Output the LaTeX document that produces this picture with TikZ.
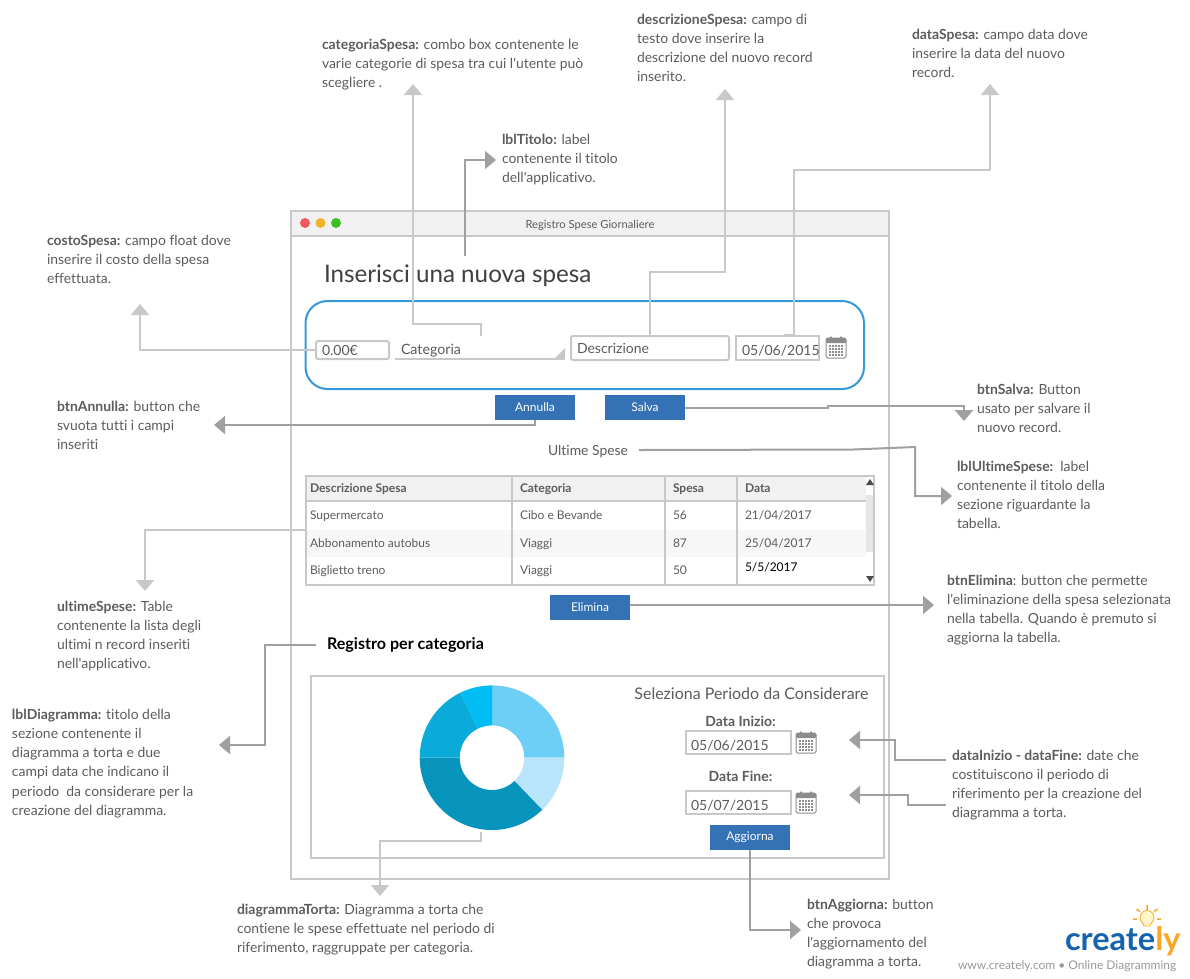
\documentclass[tikz,border=0pt]{standalone}
\usepackage{fontspec}
\setmainfont[Ligatures={TeXOff,CommonOff}]{Lato}
\usetikzlibrary{arrows.meta}
\definecolor{linelight}{HTML}{C8C8C8}
\definecolor{linedark}{HTML}{A0A0A0}
\definecolor{txt}{HTML}{5C5C5C}
\definecolor{btnblue}{HTML}{3571B5}
\definecolor{roundblue}{HTML}{3498DB}
\definecolor{barfill}{HTML}{F1F1F1}
\definecolor{calgray}{HTML}{8C8C8C}
\definecolor{dotred}{HTML}{F0595F}
\definecolor{dotyellow}{HTML}{F0B429}
\definecolor{dotgreen}{HTML}{3BBF23}
\definecolor{stripe}{HTML}{F7F7F7}
\definecolor{thumb}{HTML}{E6E6E6}
\definecolor{logoblue}{HTML}{1563AE}
\definecolor{logoorange}{HTML}{F9A825}
\definecolor{bulb}{HTML}{FFF6CC}
\definecolor{pieA}{HTML}{6DCFF6}
\definecolor{pieB}{HTML}{B8E5FA}
\definecolor{pieC}{HTML}{0694BC}
\definecolor{pieD}{HTML}{0AABD8}
\definecolor{pieE}{HTML}{02BCF4}
\newcommand{\fsz}[2]{\fontsize{#1}{#2}\selectfont}
\newcommand{\piesector}[3]{\fill[#1] (#2:72.3pt) arc[start angle=#2,end angle=#3,radius=72.3pt] -- (#3:32.3pt) arc[start angle=#3,end angle=#2,radius=32.3pt] -- cycle;}
\tikzset{
  every node/.style={inner sep=0pt,outer sep=0pt,text=txt},
  note/.style={anchor=north west,align=left,yshift=-2pt,font=\fsz{13.95}{19.2}},
  connl/.style={draw=linelight,line width=2pt,-{Triangle[length=11pt,width=18pt,color=linelight]}},
  connd/.style={draw=linedark,line width=2pt,-{Triangle[length=11pt,width=18pt,color=linedark]}},
  frame/.style={draw=linelight,line width=2pt,anchor=north west},
  field/.style={draw=linelight,line width=2pt,anchor=north west,rounded corners=2pt},
  btn/.style={fill=btnblue,minimum width=80pt,minimum height=25pt,anchor=north west,text=white,font=\fsz{12}{14}},
  celltext/.style={anchor=base west,font=\fsz{12}{14}},
  cal/.pic={
    \draw[calgray,line width=1pt,fill=white,rounded corners=1.5pt] (0,2) rectangle (20,22);
    \fill[calgray,rounded corners=1pt] (0,2) rectangle (20,7);
    \fill[calgray] (4,0.5) rectangle (6,4) (14,0.5) rectangle (16,4);
    \foreach \i in {0,...,4} \foreach \j in {0,...,3}
      \fill[calgray] (3.4+\i*3,9.2+\j*3) rectangle ++(1.8,1.8);
  },
  x=1pt,y=-1pt
}
\begin{document}
\begin{tikzpicture}
\useasboundingbox (0,0) rectangle (1190,978);
\fill[white] (0,0) rectangle (1190,978);

% window
\node[frame,minimum width=598pt,minimum height=668pt] (win) at (291,211) {};
\node[frame,fill=barfill,minimum width=598pt,minimum height=25pt] (bar) at (291,211) {};
\fill[dotred] (305,223) circle (5);
\fill[dotyellow] (320.5,223) circle (5);
\fill[dotgreen] (336,223) circle (5);
\node[font=\fsz{11.2}{13}] (wintitle) at (590,225) {Registro Spese Giornaliere};

% form
\node[anchor=base west,font=\fsz{24.2}{27},text=black!75] (title) at (324,282) {Inserisci una nuova spesa};
\draw[roundblue,line width=2pt,rounded corners=22pt] (305.5,301) rectangle (864,389);
\node[field,minimum width=73pt,minimum height=18pt] (costo) at (316,341) {};
\node[anchor=base west,font=\fsz{14}{16}] (costotxt) at (322,355) {0.00€};
\node[anchor=base west,font=\fsz{14.2}{16}] (cattxt) at (401,354) {Categoria};
\node[anchor=north west,minimum width=170pt,minimum height=1pt] (catline) at (395,358.5) {};
\draw[linelight,line width=2pt] (catline.west) -- (catline.east);
\fill[linelight] (565,348) -- (565,358) -- (555,358) -- cycle;
\node[field,minimum width=158pt,minimum height=24pt] (descr) at (571,336) {};
\node[anchor=base west,font=\fsz{14}{16}] (descrtxt) at (577,353) {Descrizione};
\node[frame,minimum width=83pt,minimum height=24pt] (datas) at (736,336) {};
\node[anchor=base west,font=\fsz{14}{16}] (datastxt) at (742,355) {05/06/2015};
\pic at (826,336) {cal};

\node[btn] (annulla) at (495,395) {Annulla};
\node[btn] (salva) at (605,395) {Salva};
\node[anchor=base,font=\fsz{13.9}{16}] (ultime) at (588,455) {Ultime Spese};

% table
\fill[barfill] (306,476) rectangle (866,501);
\fill[stripe] (306,530) rectangle (866,557);
\fill[thumb] (866,495) rectangle (874,552);
\node[frame,minimum width=568pt,minimum height=109pt] (tab) at (306,476) {};
\draw[linelight,line width=2pt] (306,501) -- (866,501);
\draw[linelight,line width=2pt] (512,476) -- (512,585) (665,476) -- (665,585) (737,476) -- (737,585);
\fill[black!70] (870,479) -- (874,485) -- (866,485) -- cycle;
\fill[black!70] (870,582) -- (874,576) -- (866,576) -- cycle;
\node[celltext] (h1) at (310,492) {\textbf{Descrizione Spesa}};
\node[celltext] (h2) at (520,492) {\textbf{Categoria}};
\node[celltext] (h3) at (673,492) {\textbf{Spesa}};
\node[celltext] (h4) at (745,492) {\textbf{Data}};
\node[celltext] (a1) at (310,519) {Supermercato};
\node[celltext] (a2) at (520,519) {Cibo e Bevande};
\node[celltext] (a3) at (673,519) {56};
\node[celltext] (a4) at (745,519) {21/04/2017};
\node[celltext] (b1) at (310,547) {Abbonamento autobus};
\node[celltext] (b2) at (520,547) {Viaggi};
\node[celltext] (b3) at (673,547) {87};
\node[celltext] (b4) at (745,547) {25/04/2017};
\node[celltext] (c1) at (310,574) {Biglietto treno};
\node[celltext] (c2) at (520,574) {Viaggi};
\node[celltext] (c3) at (673,574) {50};
\node[celltext,text=black] (c4) at (745,571) {5/5/2017};
\node[btn] (elimina) at (550,595) {Elimina};

% lower section
\node[anchor=base west,font=\fsz{16.1}{18}\bfseries,text=black] (regcat) at (327,649) {Registro per categoria};
\node[frame,minimum width=573pt,minimum height=182pt] (inner) at (311,676) {};
\begin{scope}[shift={(492,757.7)},x=1pt,y=1pt]
  \piesector{pieA}{90}{0}
  \piesector{pieB}{0}{-46}
  \piesector{pieC}{-46}{-180}
  \piesector{pieD}{180}{116}
  \piesector{pieE}{116}{90}
\end{scope}
\node[anchor=base,font=\fsz{16}{18}] (periodo) at (751.5,699) {Seleziona Periodo da Considerare};
\node[anchor=base,font=\fsz{14}{16}\bfseries] (dini) at (740.5,726) {Data Inizio:};
\node[frame,minimum width=105pt,minimum height=23pt] (dib) at (685.5,731) {};
\node[anchor=base west,font=\fsz{14}{16}] (dibt) at (691,750) {05/06/2015};
\pic at (796,731) {cal};
\node[anchor=base,font=\fsz{14}{16}\bfseries] (dfin) at (740.5,781) {Data Fine:};
\node[frame,minimum width=105pt,minimum height=23pt] (dfb) at (685.5,791) {};
\node[anchor=base west,font=\fsz{14}{16}] (dfbt) at (691,810) {05/07/2015};
\pic at (796,791) {cal};
\node[btn] (aggiorna) at (710,825) {Aggiorna};

% notes
\node[note] (nCat) at (322,37) {\textbf{categoriaSpesa:} combo box contenente le\\varie categorie di spesa tra cui l'utente può\\scegliere .};
\node[note] (nDes) at (637,12) {\textbf{descrizioneSpesa:} campo di\\testo dove inserire la\\descrizione del nuovo record\\inserito.};
\node[note] (nDat) at (912,27) {\textbf{dataSpesa:} campo data dove\\inserire la data del nuovo\\record.};
\node[note] (nTit) at (502,132) {\textbf{lblTitolo:} label\\contenente il titolo\\dell'applicativo.};
\node[note] (nCos) at (47,233) {\textbf{costoSpesa:} campo float dove\\inserire il costo della spesa\\effettuata.};
\node[note] (nAnn) at (57,399) {\textbf{btnAnnulla:} button che\\svuota tutti i campi\\inseriti};
\node[note] (nSal) at (977,382) {\textbf{btnSalva:} Button\\usato per salvare il\\nuovo record.};
\node[note] (nUlt) at (957,459) {\textbf{lblUltimeSpese:}\ \ label\\contenente il titolo della\\sezione riguardante la\\tabella.};
\node[note] (nTab) at (57,599) {\textbf{ultimeSpese:} Table\\contenente la lista degli\\ultimi n record inseriti\\nell'applicativo.};
\node[note] (nEli) at (947,573) {\textbf{btnElimina}: button che permette\\l'eliminazione della spesa selezionata\\nella tabella. Quando è premuto si\\aggiorna la tabella.};
\node[note] (nDia) at (12,707) {\textbf{lblDiagramma:} titolo della\\sezione contenente il\\diagramma a torta e due\\campi data che indicano il\\periodo\ \ da considerare per la\\creazione del diagramma.};
\node[note] (nPer) at (952,748) {\textbf{dataInizio - dataFine:} date che\\costituiscono il periodo di\\riferimento per la creazione del\\diagramma a torta.};
\node[note] (nTor) at (237,902) {\textbf{diagrammaTorta:} Diagramma a torta che\\contiene le spese effettuate nel periodo di\\riferimento, raggruppate per categoria.};
\node[note] (nAgg) at (807,897) {\textbf{btnAggiorna:} button\\che provoca\\l'aggiornamento del\\diagramma a torta.};

% connector ends
\coordinate (tCat) at (413,84);
\coordinate (sCat) at (480.5,336);
\coordinate (tDes) at (725,89);
\coordinate (sDes) at (650,336);
\coordinate (tDat) at (990,84);
\coordinate (sDat) at (784,335);
\coordinate (tTit) at (496,160);
\coordinate (sTit) at (465,256);
\coordinate (tCos) at (140,304);
\coordinate (tAnn) at (214,425);
\coordinate (tSal) at (964,421);
\coordinate (tUlt) at (952,496);
\coordinate (sUlt) at (639,450);
\coordinate (tTab) at (145,591);
\coordinate (sTab) at (306,530);
\coordinate (tEli) at (934,605);
\coordinate (tDia) at (219,745);
\coordinate (sDia) at (316,645);
\coordinate (tTor) at (380,896);
\coordinate (sTor) at (480.5,832);
\coordinate (tAgg) at (801,930);
\coordinate (tIni) at (849,740);
\coordinate (sIni) at (946,760);
\coordinate (tFin) at (849,795);
\coordinate (sFin) at (946,805);

% connectors
\draw[connl] (sCat) -- ++(0,-12) -| (tCat);
\draw[connl] (sDes) |- (687,272) -| (tDes);
\draw[connl] (sDat) -- ++(10,0) |- (892,170) -| (tDat);
\draw[connd] (sTit) |- (tTit);
\draw[connl] (costo.west) -| (tCos);
\draw[connd] (annulla.south) |- (tAnn);
\draw[connd] (salva.east) -- ++(143,0) -- ++(0,-2) -| (tSal);
\draw[connd] (sUlt) -- (853,449.5) -- (915,447) |- (tUlt);
\draw[connl] (sTab) -| (tTab);
\draw[connd] (elimina.east |- tEli) -- (tEli);
\draw[connd] (sDia) -| (265,700) |- (tDia);
\draw[connl] (sTor) -- ++(0,9) -| (tTor);
\draw[connd] (aggiorna.south) |- (tAgg);
\draw[connd] (sIni) -| (895,750) |- (tIni);
\draw[connd] (sFin) -| (908,800) |- (tFin);

% logo
\node[anchor=base west,font=\fsz{32.5}{36}\bfseries,text=logoblue] (logo) at (1065,950) {create\textcolor{logoorange}{ly}};
\fill[bulb,draw=logoorange,line width=0.8pt] (1144,926) -- (1150,926) .. controls (1150,923) and (1154,922) .. (1154,918) .. controls (1154,908) and (1140,908) .. (1140,918) .. controls (1140,922) and (1144,923) .. (1144,926) -- cycle;
\draw[logoorange,line width=1.5pt] (1147,905) -- (1147,910) (1136.5,909) -- (1140,911.5) (1157.5,909) -- (1154,911.5) (1133,919) -- (1137,919) (1161,919) -- (1157,919);
\node[anchor=base west,font=\fsz{12}{14},text=black!40] (www) at (958,969) {www.creately.com • Online Diagramming};
\end{tikzpicture}
\end{document}
